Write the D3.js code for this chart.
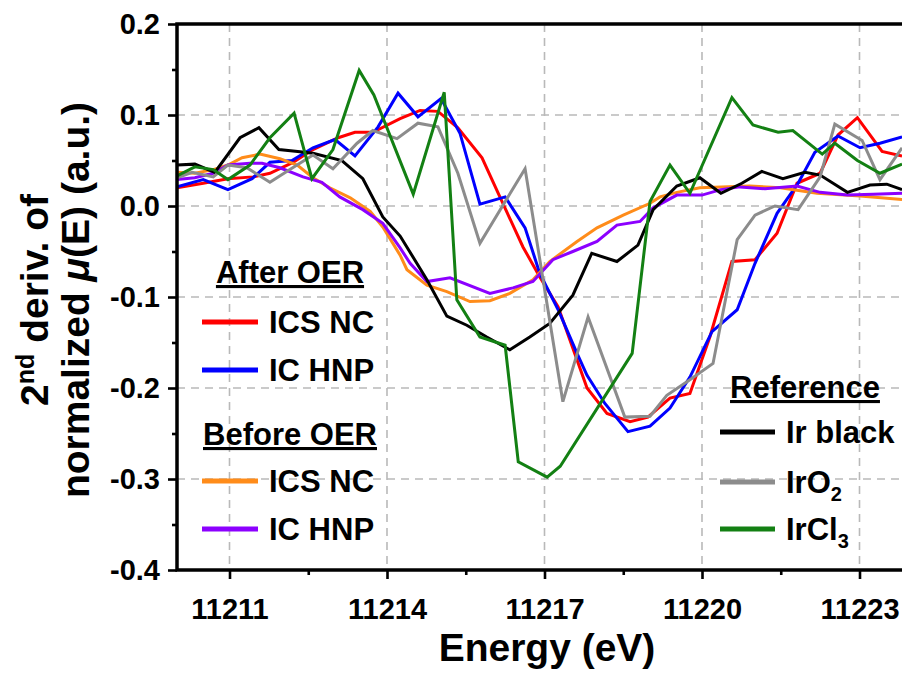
<!DOCTYPE html>
<html>
<head>
<meta charset="utf-8">
<script src="https://cdn.jsdelivr.net/npm/d3@7/dist/d3.min.js"></script>
<style>
  html, body { margin: 0; padding: 0; background: #fff; }
  svg text { font-family: "Liberation Sans", Arial, sans-serif; font-weight: bold; fill: #000; }
</style>
</head>
<body>
<svg id="chart" width="902" height="675"></svg>
<script>
// Second derivative of normalized mu(E) around the Ir L3 edge.
// Each series: photon energy (eV) and 2nd-derivative value (a.u.).

const xTicks = [11211, 11214, 11217, 11220, 11223];
const xMinorTicks = [11212.5, 11215.5, 11218.5, 11221.5];
const yTicks = [-0.4, -0.3, -0.2, -0.1, 0.0, 0.1, 0.2];
const yMinorTicks = [-0.35, -0.25, -0.15, -0.05, 0.05, 0.15];

const icsAfterE = [11210.00, 11210.50, 11210.97, 11211.45, 11211.77, 11212.21, 11212.59, 11213.07, 11213.39, 11213.73, 11214.25, 11214.63, 11214.97, 11215.35, 11215.81, 11216.15, 11216.59, 11216.91, 11217.26, 11217.81, 11218.19, 11218.63, 11218.97, 11219.39, 11219.77, 11220.15, 11220.57, 11221.01, 11221.43, 11221.81, 11222.25, 11222.59, 11222.96, 11223.43, 11223.81];
const icsAfterV = [0.020, 0.025, 0.030, 0.032, 0.036, 0.048, 0.062, 0.075, 0.081, 0.081, 0.096, 0.105, 0.104, 0.086, 0.053, 0.010, -0.045, -0.078, -0.111, -0.200, -0.228, -0.237, -0.232, -0.211, -0.206, -0.144, -0.061, -0.059, -0.030, 0.025, 0.036, 0.078, 0.097, 0.060, 0.055];

const icAfterE = [11210.00, 11210.50, 11210.97, 11211.43, 11211.77, 11212.19, 11212.59, 11213.01, 11213.39, 11213.83, 11214.21, 11214.59, 11215.03, 11215.39, 11215.77, 11216.25, 11216.63, 11216.91, 11217.26, 11217.62, 11217.81, 11218.15, 11218.59, 11219.01, 11219.39, 11219.77, 11220.19, 11220.67, 11221.01, 11221.43, 11221.83, 11222.15, 11222.59, 11223.01, 11223.39, 11223.81];
const icAfterV = [0.021, 0.029, 0.018, 0.030, 0.048, 0.050, 0.064, 0.073, 0.055, 0.087, 0.124, 0.098, 0.118, 0.080, 0.002, 0.010, -0.024, -0.074, -0.114, -0.162, -0.186, -0.217, -0.248, -0.242, -0.222, -0.188, -0.138, -0.114, -0.063, -0.008, 0.025, 0.059, 0.077, 0.064, 0.069, 0.076];

const icsBeforeE = [11210.00, 11210.34, 11210.69, 11210.97, 11211.24, 11211.58, 11211.96, 11212.29, 11212.59, 11212.91, 11213.30, 11213.68, 11213.92, 11214.25, 11214.38, 11214.76, 11215.14, 11215.58, 11215.96, 11216.34, 11216.78, 11217.10, 11217.62, 11218.00, 11218.50, 11219.01, 11219.20, 11219.52, 11219.96, 11220.91, 11221.49, 11222.19, 11223.01, 11223.81];
const icsBeforeV = [0.037, 0.036, 0.040, 0.045, 0.053, 0.057, 0.052, 0.045, 0.031, 0.020, 0.009, -0.006, -0.023, -0.054, -0.070, -0.087, -0.094, -0.105, -0.104, -0.096, -0.081, -0.061, -0.039, -0.024, -0.010, 0.003, 0.010, 0.015, 0.020, 0.022, 0.020, 0.014, 0.011, 0.007];

const icBeforeE = [11210.00, 11210.34, 11210.69, 11210.97, 11211.39, 11211.62, 11211.96, 11212.40, 11212.76, 11213.10, 11213.54, 11213.92, 11214.25, 11214.44, 11214.76, 11215.20, 11215.96, 11216.40, 11216.78, 11217.16, 11217.54, 11218.00, 11218.38, 11218.82, 11219.07, 11219.52, 11220.00, 11220.36, 11220.72, 11221.20, 11221.81, 11222.25, 11222.77, 11223.26, 11223.81];
const icBeforeV = [0.029, 0.031, 0.036, 0.045, 0.047, 0.047, 0.042, 0.032, 0.026, 0.010, -0.004, -0.019, -0.046, -0.063, -0.083, -0.079, -0.096, -0.090, -0.083, -0.059, -0.050, -0.039, -0.021, -0.017, -0.002, 0.012, 0.012, 0.018, 0.021, 0.019, 0.022, 0.015, 0.012, 0.013, 0.014];

const irBlackE = [11210.00, 11210.34, 11210.72, 11211.20, 11211.56, 11211.94, 11212.30, 11212.59, 11213.14, 11213.54, 11213.92, 11214.25, 11214.76, 11215.14, 11215.52, 11215.90, 11216.34, 11216.72, 11217.10, 11217.54, 11217.90, 11218.38, 11218.78, 11219.07, 11219.52, 11219.96, 11220.36, 11220.76, 11221.14, 11221.54, 11221.96, 11222.25, 11222.77, 11223.20, 11223.52, 11223.81];
const irBlackV = [0.045, 0.046, 0.037, 0.075, 0.086, 0.062, 0.060, 0.058, 0.050, 0.030, -0.012, -0.033, -0.081, -0.121, -0.131, -0.144, -0.158, -0.144, -0.129, -0.098, -0.052, -0.061, -0.043, -0.004, 0.022, 0.031, 0.014, 0.025, 0.038, 0.030, 0.037, 0.034, 0.015, 0.023, 0.024, 0.018];

const irO2E = [11210.00, 11210.29, 11210.69, 11210.97, 11211.33, 11211.77, 11212.15, 11212.59, 11212.97, 11213.43, 11213.73, 11214.19, 11214.59, 11214.97, 11215.35, 11215.77, 11216.63, 11217.35, 11217.83, 11218.53, 11219.01, 11219.33, 11219.77, 11220.21, 11220.67, 11221.01, 11221.39, 11221.83, 11222.25, 11222.53, 11223.05, 11223.39, 11223.81];
const irO2V = [0.031, 0.037, 0.032, 0.045, 0.042, 0.026, 0.040, 0.056, 0.041, 0.069, 0.083, 0.074, 0.091, 0.087, 0.036, -0.041, 0.041, -0.215, -0.122, -0.232, -0.231, -0.208, -0.191, -0.173, -0.037, -0.010, 0.000, -0.004, 0.032, 0.090, 0.072, 0.029, 0.064];

const irCl3E = [11210.00, 11210.34, 11210.69, 11210.97, 11211.39, 11211.77, 11212.23, 11212.57, 11212.97, 11213.47, 11213.75, 11214.50, 11215.09, 11215.33, 11215.77, 11216.25, 11216.50, 11217.05, 11217.30, 11218.67, 11219.01, 11219.39, 11219.77, 11220.57, 11220.97, 11221.45, 11221.73, 11222.29, 11222.53, 11222.96, 11223.39, 11223.81];
const irCl3V = [0.033, 0.043, 0.040, 0.029, 0.045, 0.075, 0.102, 0.030, 0.062, 0.149, 0.122, 0.013, 0.125, -0.103, -0.144, -0.153, -0.281, -0.298, -0.286, -0.162, 0.005, 0.045, 0.014, 0.119, 0.089, 0.081, 0.083, 0.057, 0.069, 0.050, 0.036, 0.046];

const seriesNames = ["ICS NC after", "IC HNP after", "ICS NC before", "IC HNP before", "Ir black", "IrO2", "IrCl3"];
const seriesColors = ["#ff0000", "#0000ff", "#ff8c1a", "#8c00ff", "#000000", "#8c8c8c", "#138013"];
const seriesE = [icsAfterE, icAfterE, icsBeforeE, icBeforeE, irBlackE, irO2E, irCl3E];
const seriesV = [icsAfterV, icAfterV, icsBeforeV, icBeforeV, irBlackV, irO2V, irCl3V];

const svg = d3.select("#chart");
const plotLeft = 177, plotRight = 912, plotTop = 24, plotBottom = 570;

const x = d3.scaleLinear().domain([11210, 11224]).range([plotLeft, plotRight]);
const y = d3.scaleLinear().domain([-0.4, 0.2]).range([plotBottom, plotTop]);

svg.append("defs").append("clipPath").attr("id", "plotClip")
  .append("rect").attr("x", plotLeft).attr("y", plotTop)
  .attr("width", plotRight - plotLeft).attr("height", plotBottom - plotTop);

// dashed grid
const grid = svg.append("g").attr("stroke", "#b9b9b9").attr("stroke-width", 1.6).attr("stroke-dasharray", "8,6");
grid.selectAll("line.gx").data(xTicks).join("line").attr("class", "gx")
  .attr("x1", d => x(d)).attr("x2", d => x(d)).attr("y1", plotTop).attr("y2", plotBottom);
grid.selectAll("line.gy").data(yTicks.filter(d => d > -0.39 && d < 0.19)).join("line").attr("class", "gy")
  .attr("y1", d => y(d)).attr("y2", d => y(d)).attr("x1", plotLeft).attr("x2", plotRight);

// data lines
const line = d3.line().x(d => x(d[0])).y(d => y(d[1]));
const lines = svg.append("g").attr("clip-path", "url(#plotClip)");
seriesNames.forEach((name, i) => {
  const pts = seriesE[i].map((e, j) => [e, seriesV[i][j]]);
  lines.append("path").datum(pts)
    .attr("fill", "none").attr("stroke", seriesColors[i]).attr("stroke-width", 3)
    .attr("stroke-linejoin", "miter").attr("d", line);
});

// axes
const fmt = d => d.toFixed(1);
const gx = svg.append("g").attr("transform", `translate(0,${plotBottom})`)
  .call(d3.axisBottom(x).tickValues(xTicks).tickSize(9).tickPadding(19).tickFormat(d3.format("d")));
const gxm = svg.append("g").attr("transform", `translate(0,${plotBottom})`)
  .call(d3.axisBottom(x).tickValues(xMinorTicks).tickSize(5).tickFormat(""));
const gy = svg.append("g").attr("transform", `translate(${plotLeft},0)`)
  .call(d3.axisLeft(y).tickValues(yTicks).tickSize(9).tickPadding(8).tickFormat(fmt));
const gym = svg.append("g").attr("transform", `translate(${plotLeft},0)`)
  .call(d3.axisLeft(y).tickValues(yMinorTicks).tickSize(5).tickFormat(""));
[gx, gxm, gy, gym].forEach(g => {
  g.select(".domain").remove();
  g.selectAll(".tick line").attr("stroke", "#000").attr("stroke-width", 2.6);
  g.selectAll("text").style("font-size", "29px").style("font-family", "'Liberation Sans', Arial, sans-serif").style("font-weight", "bold");
});

// frame
svg.append("rect").attr("x", plotLeft).attr("y", plotTop)
  .attr("width", plotRight - plotLeft).attr("height", plotBottom - plotTop)
  .attr("fill", "none").attr("stroke", "#000").attr("stroke-width", 3.5);

// axis titles
svg.append("text").attr("x", 547).attr("y", 661).attr("text-anchor", "middle")
  .style("font-size", "39px").text("Energy (eV)");

const yt = svg.append("g").attr("transform", "translate(0,300) rotate(-90)");
const t1 = yt.append("text").attr("x", 0).attr("y", 48).attr("text-anchor", "middle").style("font-size", "39px");
t1.append("tspan").text("2");
t1.append("tspan").attr("dy", -14).style("font-size", "25px").text("nd");
t1.append("tspan").attr("dy", 14).text(" deriv. of");
const t2 = yt.append("text").attr("x", 0).attr("y", 89).attr("text-anchor", "middle").style("font-size", "39px");
t2.append("tspan").text("normalized ");
t2.append("tspan").style("font-style", "italic").text("\u03BC");
t2.append("tspan").text("(E) (a.u.)");

// legends
function header(txt, cx, baseline) {
  svg.append("text").attr("x", cx).attr("y", baseline).attr("text-anchor", "middle")
    .style("font-size", "31px").attr("text-decoration", "underline").text(txt);
}
function item(color, x1, x2, ly, tx, parts) {
  svg.append("line").attr("x1", x1).attr("x2", x2).attr("y1", ly).attr("y2", ly)
    .attr("stroke", color).attr("stroke-width", 5);
  const t = svg.append("text").attr("x", tx).attr("y", ly + 11).style("font-size", "31px");
  parts.forEach(p => {
    const s = t.append("tspan").text(p.t);
    if (p.sub) s.attr("dy", 8).style("font-size", "20px");
  });
}
header("After OER", 290, 283);
item(seriesColors[0], 202, 258, 322, 269, [{t: "ICS NC"}]);
item(seriesColors[1], 202, 258, 370, 269, [{t: "IC HNP"}]);
header("Before OER", 290, 445);
item(seriesColors[2], 202, 258, 481, 269, [{t: "ICS NC"}]);
item(seriesColors[3], 202, 258, 529, 269, [{t: "IC HNP"}]);
header("Reference", 805, 398);
item(seriesColors[4], 720, 775, 432, 786, [{t: "Ir black"}]);
item(seriesColors[5], 720, 775, 482, 786, [{t: "IrO"}, {t: "2", sub: true}]);
item(seriesColors[6], 720, 775, 529, 786, [{t: "IrCl"}, {t: "3", sub: true}]);
</script>
</body>
</html>
